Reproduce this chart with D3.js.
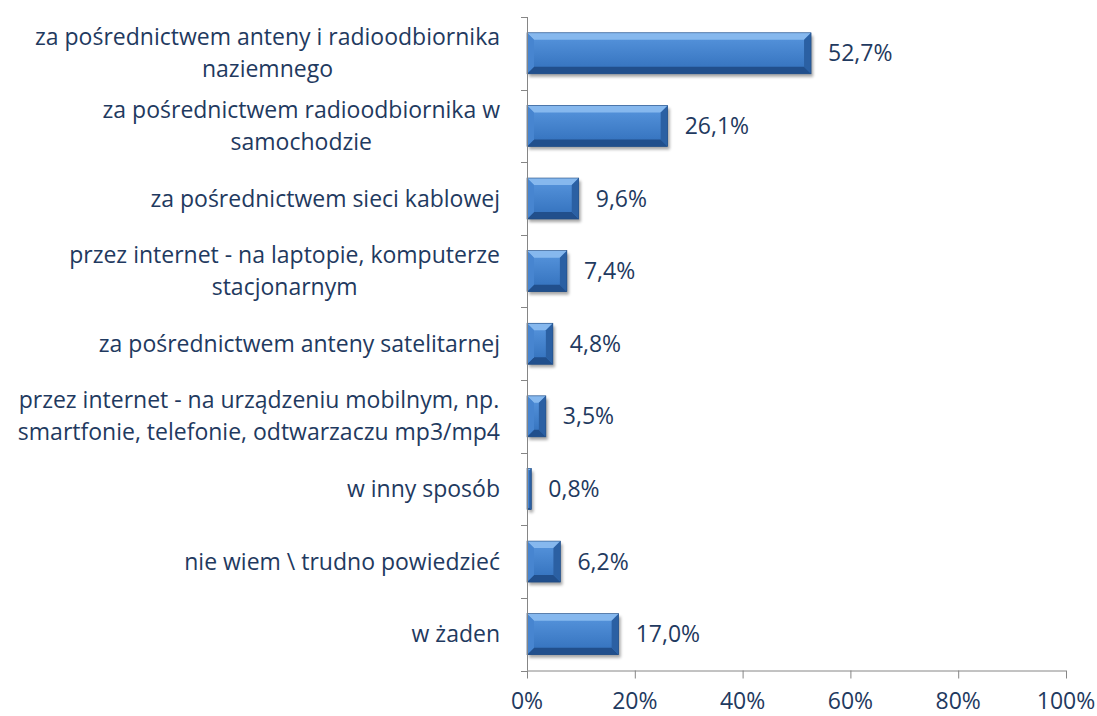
<!DOCTYPE html>
<html>
<head>
<meta charset="utf-8">
<script src="https://cdn.jsdelivr.net/npm/d3@7"></script>
<style>
	body { margin: 0; background: #fff; }
	#chart { width: 1097px; height: 716px; }
	#chart svg { display: block; }
	text { font-family: "Open Sans", sans-serif; fill: #1f3a60; }
</style>
</head>
<body>
<div id="chart"></div>
<script>
// categories (line breaks as in the original chart)
const categories = [
	"za pośrednictwem anteny i radioodbiornika\nnaziemnego",
	"za pośrednictwem radioodbiornika w\nsamochodzie",
	"za pośrednictwem sieci kablowej",
	"przez internet - na laptopie, komputerze\nstacjonarnym",
	"za pośrednictwem anteny satelitarnej",
	"przez internet - na urządzeniu mobilnym, np.\nsmartfonie, telefonie, odtwarzaczu mp3/mp4",
	"w inny sposób",
	"nie wiem \\ trudno powiedzieć",
	"w żaden"
];
const values = [52.7, 26.1, 9.6, 7.4, 4.8, 3.5, 0.8, 6.2, 17.0];
const xTicks = [0, 20, 40, 60, 80, 100];

const width = 1097, height = 716;
const margin = {top: 17, right: 31, bottom: 45.5, left: 527};
const fontSize = 23;

const svg = d3.select("#chart").append("svg")
	.attr("width", width)
	.attr("height", height);

const defs = svg.append("defs");
const grad = defs.append("linearGradient")
	.attr("id", "barGrad")
	.attr("x1", 0).attr("y1", 0).attr("x2", 0).attr("y2", 1);
grad.append("stop").attr("offset", "0%").attr("stop-color", "#5896de");
grad.append("stop").attr("offset", "100%").attr("stop-color", "#316fbb");

// scales in page coordinates
const x = d3.scaleLinear().domain([0, 100]).range([margin.left, width - margin.right]);
const y = d3.scaleBand()
	.domain(d3.range(categories.length))
	.range([margin.top, height - margin.bottom])
	.paddingInner(0.435)
	.paddingOuter(0.2175);
const x0 = x(0), yBottom = height - margin.bottom;

// bars with bevel
const bars = svg.selectAll("g.bar")
	.data(values)
	.enter().append("g")
		.attr("class", "bar");

bars.each(function(d, i){
	const sel = d3.select(this);
	const left = x0, top = y(i);
	const w = x(d) - x0;
	const h = y.bandwidth();
	const b = Math.min(7, w / 2, h / 2);

	// soft shadow, filter region kept tight around the bar
	const f = defs.append("filter")
		.attr("id", "shadow" + i)
		.attr("filterUnits", "userSpaceOnUse")
		.attr("x", left - 2).attr("y", top - 2)
		.attr("width", w + 9).attr("height", h + 9);
	f.append("feGaussianBlur").attr("stdDeviation", 1.8);
	sel.append("rect")
		.attr("x", left + 2).attr("y", top + 3)
		.attr("width", w).attr("height", h)
		.attr("fill", "#000")
		.attr("opacity", 0.35)
		.attr("filter", "url(#shadow" + i + ")");

	sel.append("rect")
		.attr("x", left).attr("y", top)
		.attr("width", w).attr("height", h)
		.attr("fill", "url(#barGrad)");
	const poly = (pts, fill) => sel.append("polygon")
		.attr("points", pts.map(p => (left + p[0]) + "," + (top + p[1])).join(" "))
		.attr("fill", fill);
	poly([[0,0],[w,0],[w-b,b],[b,b]], "#86b8ee");
	poly([[0,h],[w,h],[w-b,h-b],[b,h-b]], "#214f8c");
	poly([[w,0],[w,h],[w-b,h-b],[w-b,b]], "#2b60a3");
	poly([[0,0],[0,h],[b,h-b],[b,b]], "#4785d0");
	sel.append("rect")
		.attr("x", left).attr("y", top)
		.attr("width", w).attr("height", h)
		.attr("fill", "none")
		.attr("stroke", "#1f4a80")
		.attr("stroke-width", 0.6);
});

// x axis (line and ticks), labels drawn separately below
const xAxis = svg.append("g")
	.attr("transform", "translate(0," + yBottom + ")")
	.call(d3.axisBottom(x).tickValues(xTicks).tickSize(8).tickFormat(""));
xAxis.select(".domain").attr("stroke", "#868686").attr("d", "M" + x0 + ",0.5H" + x(100));
xAxis.selectAll(".tick line").attr("stroke", "#868686");
xAxis.selectAll(".tick text").remove();

svg.selectAll("text.tick-label")
	.data(xTicks)
	.enter().append("text")
		.attr("class", "tick-label")
		.attr("x", d => x(d))
		.attr("y", yBottom + 38.5)
		.attr("text-anchor", "middle")
		.style("font-size", fontSize + "px")
		.text(d => d + "%");

// y axis line with ticks at band boundaries
svg.append("line")
	.attr("x1", x0 + 0.5).attr("x2", x0 + 0.5)
	.attr("y1", margin.top).attr("y2", yBottom)
	.attr("stroke", "#868686");
const step = y.step();
const bandEdges = d3.range(categories.length + 1)
	.map(k => y(0) - step * y.paddingOuter() + k * step);
svg.selectAll("line.ytick")
	.data(bandEdges)
	.enter().append("line")
		.attr("class", "ytick")
		.attr("x1", x0 - 6).attr("x2", x0)
		.attr("y1", d => Math.round(d) + 0.5)
		.attr("y2", d => Math.round(d) + 0.5)
		.attr("stroke", "#868686");

// value labels
svg.selectAll("text.value")
	.data(values)
	.enter().append("text")
		.attr("class", "value")
		.attr("x", d => x(d) + 17)
		.attr("y", (d, i) => y(i) + y.bandwidth() / 2)
		.attr("dy", "0.35em")
		.style("font-size", fontSize + "px")
		.text(d => d.toFixed(1).replace(".", ",") + "%");

// category labels: right aligned block, lines centered inside it
const lineHeight = 32;
categories.forEach((c, i) => {
	const lines = c.split("\n");
	const cy = y(i) + y.bandwidth() / 2;
	const texts = lines.map((ln, k) => svg.append("text")
		.attr("class", "cat-label")
		.attr("y", cy + (k - (lines.length - 1) / 2) * lineHeight)
		.attr("dy", "0.35em")
		.attr("text-anchor", "middle")
		.style("font-size", fontSize + "px")
		.text(ln));
	const blockW = d3.max(texts, t => t.node().getComputedTextLength());
	texts.forEach(t => t.attr("x", x0 - 27 - blockW / 2));
});
</script>
</body>
</html>
